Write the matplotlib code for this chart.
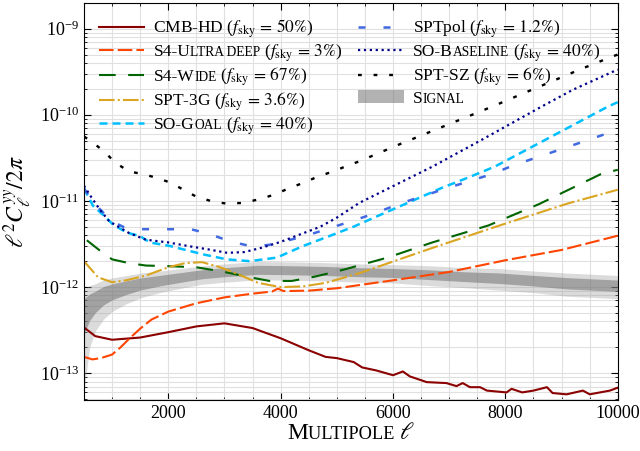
import matplotlib
matplotlib.use("Agg")
import matplotlib.pyplot as plt
import numpy as np
from matplotlib.ticker import MultipleLocator, LogLocator, NullFormatter
from matplotlib.offsetbox import TextArea, HPacker, AnchoredOffsetbox

plt.rcParams['font.family'] = ['Liberation Serif', 'DejaVu Serif']
plt.rcParams['mathtext.fontset'] = 'stix'

# noise curves  (ell, ell^2 C_ell^yy / 2pi)
ell_cmbhd = [500, 700, 1000, 1500, 2000, 2500, 3000, 3500, 4000, 4500, 4800, 5000, 5300, 5450, 5700,
             6000, 6175, 6300, 6600, 6950, 7130, 7240, 7370, 7550, 7670, 8020, 8110, 8300, 8500,
             8740, 8840, 9090, 9380, 9500, 9860, 10000]
cl_cmbhd = [3.4e-13, 2.7e-13, 2.45e-13, 2.6e-13, 3.0e-13, 3.5e-13, 3.8e-13, 3.35e-13, 2.55e-13, 1.85e-13,
            1.55e-13, 1.5e-13, 1.35e-13, 1.17e-13, 1.08e-13, 9.5e-14, 1.05e-13, 9.2e-14, 7.9e-14, 7.7e-14,
            7.1e-14, 7.7e-14, 6.9e-14, 6.9e-14, 6.3e-14, 6.0e-14, 6.6e-14, 6.0e-14, 6.3e-14, 6.9e-14,
            5.9e-14, 5.7e-14, 6.3e-14, 5.7e-14, 6.3e-14, 6.8e-14]

ell_s4ud = [500, 650, 800, 1000, 1150, 1300, 1500, 1700, 2000, 2500, 3000, 3500, 3850, 3950, 4050, 4500,
            5000, 6000, 7000, 8000, 9000, 10000]
cl_s4ud = [1.55e-13, 1.45e-13, 1.5e-13, 1.65e-13, 2.0e-13, 2.5e-13, 3.3e-13, 4.2e-13, 5.2e-13, 6.5e-13,
           7.6e-13, 8.4e-13, 8.9e-13, 9.6e-13, 9.0e-13, 9.1e-13, 9.7e-13, 1.2e-12, 1.5e-12, 2.05e-12,
           2.7e-12, 3.95e-12]

ell_s4wide = [550, 800, 1000, 1300, 1600, 2000, 2500, 3000, 3400, 3800, 4200, 4600, 5100, 5900, 6700,
              7700, 8600, 9700, 10000]
cl_s4wide = [3.5e-12, 2.6e-12, 2.1e-12, 1.9e-12, 1.78e-12, 1.75e-12, 1.7e-12, 1.5e-12, 1.32e-12, 1.18e-12,
             1.18e-12, 1.32e-12, 1.58e-12, 2.2e-12, 3.3e-12, 5.2e-12, 9.2e-12, 2.05e-11, 2.3e-11]

ell_spt3g = [500, 750, 1000, 1250, 1600, 2000, 2300, 2600, 2900, 3200, 3600, 4000, 4400, 4800, 5400,
             6700, 7900, 9100, 10000]
cl_spt3g = [2.0e-12, 1.3e-12, 1.14e-12, 1.2e-12, 1.36e-12, 1.7e-12, 1.9e-12, 1.95e-12, 1.72e-12, 1.45e-12,
            1.12e-12, 1.0e-12, 1.02e-12, 1.12e-12, 1.45e-12, 2.85e-12, 5.2e-12, 9.3e-12, 1.35e-11]

ell_sogoal = [500, 660, 840, 1020, 1260, 1500, 1670, 2030, 2620, 3040, 3450, 3930, 4400, 4840, 5290,
              5730, 6180, 6870, 7330, 7810, 8800, 9820, 10000]
cl_sogoal = [1.4e-11, 8.8e-12, 6.9e-12, 5.3e-12, 4.3e-12, 3.9e-12, 3.3e-12, 3.0e-12, 2.4e-12, 2.1e-12,
             2.0e-12, 2.2e-12, 3.0e-12, 3.85e-12, 5.0e-12, 6.7e-12, 9.0e-12, 1.42e-11, 1.86e-11, 2.5e-11,
             5.5e-11, 1.24e-10, 1.4e-10]

ell_sptpol = [500, 650, 800, 1000, 1200, 1400, 2000, 2400, 2700, 3100, 3500, 3800, 4400, 4880, 5290,
              5680, 6120, 6920, 7760, 8150, 9000, 10000]
cl_sptpol = [1.4e-11, 1.0e-11, 7.8e-12, 5.8e-12, 5.0e-12, 4.7e-12, 4.7e-12, 4.7e-12, 4.2e-12, 3.4e-12,
             2.95e-12, 3.1e-12, 3.85e-12, 4.85e-12, 5.9e-12, 7.2e-12, 9.3e-12, 1.38e-11, 2.05e-11, 2.6e-11,
             4.0e-11, 6.7e-11]

ell_sobase = [500, 640, 790, 950, 1300, 1600, 2000, 2350, 2700, 3050, 3350, 3650, 4000, 4350, 4700,
              5000, 5400, 6100, 6700, 7550, 8600, 9200, 10000]
cl_sobase = [1.5e-11, 1.08e-11, 7.8e-12, 5.8e-12, 4.25e-12, 3.55e-12, 3.3e-12, 3.0e-12, 2.75e-12, 2.5e-12,
             2.55e-12, 2.85e-12, 3.35e-12, 4.1e-12, 5.0e-12, 6.4e-12, 9.5e-12, 1.6e-11, 2.5e-11, 5.0e-11,
             1.2e-10, 1.95e-10, 3.35e-10]

ell_sptsz = [500, 650, 870, 1050, 1300, 1550, 1800, 2050, 2260, 2500, 2800, 3050, 3330, 3630, 3860,
             4160, 4400, 4650, 4930, 5180, 5410, 6100, 6800, 7760, 8300, 8800, 9300, 9850, 10000]
cl_sptsz = [5.6e-11, 4.8e-11, 3.7e-11, 2.8e-11, 2.2e-11, 2.05e-11, 1.85e-11, 1.62e-11, 1.36e-11, 1.12e-11,
            9.8e-12, 9.3e-12, 9.5e-12, 1.05e-11, 1.17e-11, 1.41e-11, 1.62e-11, 1.9e-11, 2.2e-11, 2.55e-11,
            2.9e-11, 4.5e-11, 6.9e-11, 1.24e-10, 1.75e-10, 2.4e-10, 3.3e-10, 4.6e-10, 5.0e-10]

# signal with fractional 1-sigma error
ell_sig = [500, 600, 700, 850, 1000, 1250, 1500, 1850, 2200, 2600, 3000, 3600, 4200, 4800, 5400, 6000,
           6700, 7300, 7900, 8500, 9100, 9600, 10000]
cl_sig = [5.1e-13, 6.2e-13, 7.0e-13, 8.2e-13, 9.0e-13, 1.0e-12, 1.1e-12, 1.2e-12, 1.3e-12, 1.42e-12,
          1.5e-12, 1.6e-12, 1.58e-12, 1.55e-12, 1.5e-12, 1.47e-12, 1.4e-12, 1.33e-12, 1.28e-12, 1.2e-12,
          1.12e-12, 1.08e-12, 1.05e-12]
err_sig = [0.44, 0.34, 0.28, 0.24, 0.21, 0.18, 0.16, 0.14, 0.13, 0.12, 0.12, 0.12, 0.12, 0.12, 0.12, 0.12,
           0.13, 0.13, 0.14, 0.14, 0.15, 0.15, 0.15]

yticks = [1e-13, 1e-12, 1e-11, 1e-10, 1e-9]

fs = 12.5

fig = plt.figure(figsize=(6.4, 4.51), dpi=100)
ax = fig.add_axes([0.13125, 0.1131, 0.834, 0.881])

s = np.array(cl_sig)
e = np.array(err_sig)
ax.fill_between(ell_sig, s * (1 - 2 * e), s * (1 + 2 * e), color='0.6', alpha=0.35, lw=0, zorder=1)
ax.fill_between(ell_sig, s * (1 - e), s * (1 + e), color='0.45', alpha=0.55, lw=0, zorder=1,
                label='Signal')


def fsky(p):
    return r' ($f_{\rm sky}\,=\,%s\%%$)' % p


ax.plot(ell_cmbhd, cl_cmbhd, color='darkred', lw=1.5, label='CMB-HD' + fsky('50'))
ax.plot(ell_s4ud, cl_s4ud, color='orangered', lw=1.5, ls=(0, (7, 2)), label='S4-Ultra deep' + fsky('3'))
ax.plot(ell_s4wide, cl_s4wide, color='darkgreen', lw=1.5, ls=(0, (8, 6)), label='S4-Wide' + fsky('67'))
ax.plot(ell_spt3g, cl_spt3g, color='goldenrod', lw=1.5, ls=(0, (7.5, 1.5, 1, 1.5)),
        label='SPT-3G' + fsky('3.6'))
ax.plot(ell_sogoal, cl_sogoal, color='deepskyblue', lw=1.8, ls=(0, (3.2, 2)), label='SO-Goal' + fsky('40'))
ax.plot(ell_sptpol, cl_sptpol, color='royalblue', lw=1.8, ls=(0, (2.8, 7.2)), label='SPTpol' + fsky('1.2'))
ax.plot(ell_sobase, cl_sobase, color='darkblue', lw=1.6, ls=':', label='SO-Baseline' + fsky('40'))
ax.plot(ell_sptsz, cl_sptsz, color='black', lw=1.7, ls=(0, (1.6, 5)), label='SPT-SZ' + fsky('6'))

ax.set_yscale('log')
ax.set_xlim(500, 10000)
ax.set_ylim(4.9e-14, 2e-9)
ax.xaxis.set_major_locator(MultipleLocator(2000))
ax.xaxis.set_minor_locator(MultipleLocator(500))
ax.set_yticks(yticks)
ax.yaxis.set_minor_locator(LogLocator(base=10, subs=np.arange(2, 10), numticks=20))
ax.yaxis.set_minor_formatter(NullFormatter())
ax.tick_params(which='both', direction='in', top=True, right=True, labelsize=13)
ax.tick_params(which='major', length=5, width=0.8)
ax.tick_params(which='minor', length=2.5, width=0.6)
ax.grid(True, which='both', color='0.88', lw=0.8)
ax.set_axisbelow(True)

ax.set_ylabel(r'$\ell^2 C_\ell^{yy}/2\pi$', fontsize=17, labelpad=4)


def caps_box(parts, size):
    # fake small caps: lower-case runs drawn as smaller capitals
    kids = []
    for txt, small in parts:
        kids.append(TextArea(txt, textprops=dict(size=size * 0.78 if small else size)))
    return HPacker(children=kids, pad=0, sep=0, align='baseline')


caps = {
    'S4-Ultra deep' + fsky('3'): [('S4-U', 0), ('LTRA DEEP', 1), (fsky('3'), 0)],
    'S4-Wide' + fsky('67'): [('S4-W', 0), ('IDE', 1), (fsky('67'), 0)],
    'SO-Goal' + fsky('40'): [('SO-G', 0), ('OAL', 1), (fsky('40'), 0)],
    'SO-Baseline' + fsky('40'): [('SO-B', 0), ('ASELINE', 1), (fsky('40'), 0)],
    'Signal': [('S', 0), ('IGNAL', 1)],
}

handles, labels = ax.get_legend_handles_labels()
order = [1, 2, 3, 4, 5, 6, 7, 8, 0]
leg = ax.legend([handles[i] for i in order], [labels[i] for i in order], ncol=2, loc='upper left',
                frameon=False, fontsize=fs, handlelength=2.6, handletextpad=0.55, columnspacing=0.9,
                labelspacing=0.12, borderaxespad=0.45)
for col in leg._legend_handle_box.get_children():
    for item in col.get_children():
        kids = item.get_children()
        lab = kids[1].get_text()
        if lab in caps:
            box = caps_box(caps[lab], fs)
            box.set_figure(fig)
            kids[1] = box

xl = HPacker(children=[TextArea('M', textprops=dict(size=17)),
                       TextArea('ULTIPOLE ', textprops=dict(size=17 * 0.78)),
                       TextArea(r'$\ell$', textprops=dict(size=17))],
             pad=0, sep=0, align='baseline')
ab = AnchoredOffsetbox(loc='center', child=xl, bbox_to_anchor=(0.5, -0.085),
                       bbox_transform=ax.transAxes, frameon=False, pad=0, borderpad=0)
ax.add_artist(ab)

fig.savefig('out.png', dpi=100)
